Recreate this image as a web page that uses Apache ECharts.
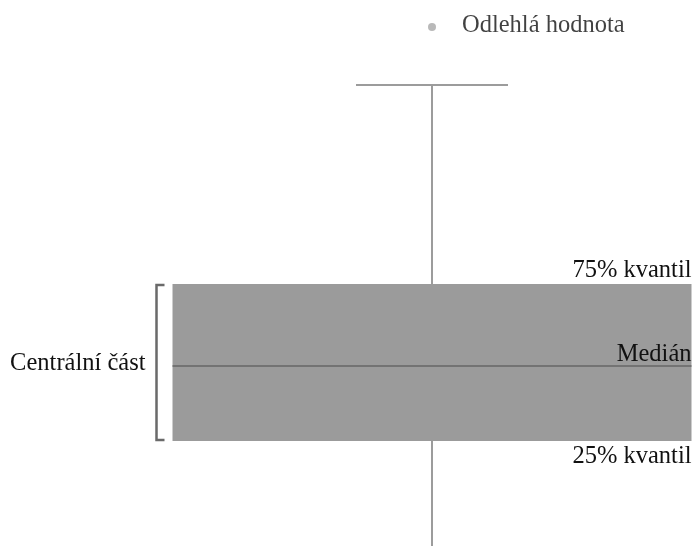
<!DOCTYPE html>
<html>
<head>
<meta charset="utf-8">
<script src="https://cdn.jsdelivr.net/npm/echarts@6/dist/echarts.min.js"></script>
<style>html,body{margin:0;padding:0;background:#fff}#c{width:694px;height:548px}</style>
</head>
<body>
<div id="c"></div>
<script>
// Schematic box plot (values in arbitrary units)
const categories = ['Box'];
const lowerWhisker = [2];
const q1 = [107];
const median = [182];
const q3 = [264];
const upperWhisker = [463];
const outliers = [521];
const labelOutlier = 'Odlehlá hodnota';
const labelQ3 = '75% kvantil';
const labelMedian = 'Medián';
const labelQ1 = '25% kvantil';
const labelCentral = 'Centrální část';

const FONT = '"Liberation Serif", "Times New Roman", serif';
const FS = 24.5;

const chart = echarts.init(document.getElementById('c'), null, {renderer: 'canvas'});
const boxData = categories.map((c, i) => [i, lowerWhisker[i], q1[i], median[i], q3[i], upperWhisker[i]]);

chart.setOption({
  backgroundColor: '#fff',
  animation: false,
  grid: {left: 170, right: 0, top: 0, bottom: 0},
  xAxis: {type: 'category', data: categories, show: false},
  yAxis: {type: 'value', min: 0, max: 548, show: false},
  series: [
    {
      type: 'custom',
      data: boxData,
      renderItem: function (params, api) {
        const x = api.coord([api.value(0), 0])[0];
        const yLow = api.coord([0, api.value(1)])[1];
        const yQ1 = api.coord([0, api.value(2)])[1];
        const yMed = api.coord([0, api.value(3)])[1];
        const yQ3 = api.coord([0, api.value(4)])[1];
        const yUp = api.coord([0, api.value(5)])[1];
        const boxW = 519, capW = 152;
        const bx = x - boxW / 2;
        const whiskerStyle = {stroke: '#9c9c9c', lineWidth: 2};
        const ts = function (t, tx, ty, al) {
          return {type: 'text', style: {text: t, x: tx, y: ty, align: al, verticalAlign: 'middle', font: FS + 'px ' + FONT, fill: '#111'}};
        };
        return {
          type: 'group',
          children: [
            {type: 'line', shape: {x1: x, y1: yUp, x2: x, y2: yQ3}, style: whiskerStyle},
            {type: 'line', shape: {x1: x, y1: yQ1, x2: x, y2: yLow}, style: whiskerStyle},
            {type: 'line', shape: {x1: x - capW / 2, y1: yUp, x2: x + capW / 2, y2: yUp}, style: whiskerStyle},
            {type: 'rect', shape: {x: bx, y: yQ3, width: boxW, height: yQ1 - yQ3}, style: {fill: '#9b9b9b'}},
            {type: 'line', shape: {x1: bx, y1: yMed, x2: bx + boxW, y2: yMed}, style: {stroke: '#666', lineWidth: 1.5}},
            {type: 'polyline', shape: {points: [[bx - 8, yQ3 + 1], [bx - 16, yQ3 + 1], [bx - 16, yQ1 - 1], [bx - 8, yQ1 - 1]]},
             style: {stroke: '#6a6a6a', lineWidth: 2.5, fill: null}},
            ts(labelQ3, bx + boxW, yQ3 - 13, 'right'),
            ts(labelMedian, bx + boxW, yMed - 11, 'right'),
            ts(labelQ1, bx + boxW, yQ1 + 16, 'right'),
            ts(labelCentral, bx - 27, yMed - 2, 'right')
          ]
        };
      }
    },
    {
      type: 'scatter',
      name: labelOutlier,
      data: outliers.map((v, i) => [i, v]),
      symbolSize: 8,
      itemStyle: {color: '#a8a8a8'},
      label: {
        show: true, position: 'right', distance: 26,
        formatter: labelOutlier,
        fontFamily: FONT, fontSize: FS, color: '#111', offset: [0, -1]
      }
    }
  ]
});
</script>
</body>
</html>
